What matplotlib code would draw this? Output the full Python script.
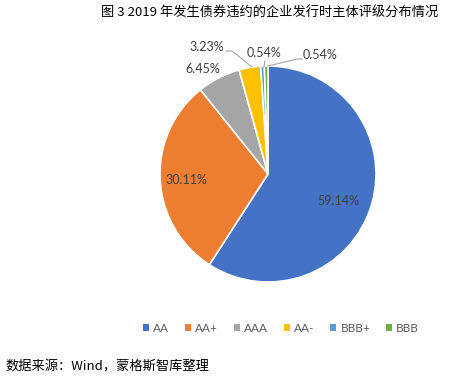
import matplotlib
matplotlib.use("Agg")
import matplotlib.pyplot as plt
from matplotlib.patches import Patch

plt.rcParams['font.family'] = ['Noto Sans CJK SC', 'DejaVu Sans']

grades = ['AA', 'AA+', 'AAA', 'AA-', 'BBB+', 'BBB']
shares = [59.14, 30.11, 6.45, 3.23, 0.54, 0.54]
colors = ['#4472C4', '#ED7D31', '#A5A5A5', '#FFC000', '#5B9BD5', '#70AD47']

title = '图 3 2019 年发生债券违约的企业发行时主体评级分布情况'
source = '数据来源：Wind，蒙格斯智库整理'

W, H = 463, 383
fig = plt.figure(figsize=(W / 100, H / 100), dpi=100)

# pie centre and radius in pixels
cx, cy, r = 268, 174, 108
ax = fig.add_axes([(cx - r) / W, (H - cy - r) / H, 2 * r / W, 2 * r / H])
wedges, _ = ax.pie(shares, colors=colors, startangle=90, counterclock=False,
                   wedgeprops=dict(edgecolor='white', linewidth=1.2))
ax.set_xlim(-1, 1)
ax.set_ylim(-1, 1)
ax.set_aspect('equal')


def px(x, y):
    return ((x - cx) / r, (cy - y) / r)


lab = dict(fontsize=9, color='#404040', family=['Lato', 'DejaVu Sans'],
           ha='center', va='center')
# label text positions (pixels)
label_pos = [(338, 201), (186, 180), (203, 69), (207, 47), (264, 53), (320, 55)]
for s, (x, y) in zip(shares, label_pos):
    ax.text(*px(x, y), f'{s:.2f}%', **lab, clip_on=False)

# leader lines
leaders = [
    [(226, 51), (232, 51), (252, 67)],
    [(265, 61), (264, 67)],
    [(302, 59), (297, 59), (268, 66)],
]
for pts in leaders:
    xs, ys = zip(*[px(x, y) for x, y in pts])
    ax.plot(xs, ys, color='#A6A6A6', linewidth=0.8, clip_on=False)

handles = [Patch(facecolor=c, edgecolor='none') for c in colors]
leg = fig.legend(handles, grades, loc='center', bbox_to_anchor=(281 / W, 1 - 328 / H),
                 ncol=6, frameon=False, handlelength=0.55, handleheight=0.55,
                 handletextpad=0.35, columnspacing=1.3,
                 prop={'family': ['Lato', 'DejaVu Sans'], 'size': 8.5})
for t in leg.get_texts():
    t.set_color('#595959')

fig.text(270 / W, 1 - 13 / H, title, ha='center', va='center', fontsize=9.5, color='black')
fig.text(5 / W, 1 - 367 / H, source, ha='left', va='center', fontsize=9.5, color='black')

fig.savefig('out.png', dpi=100, facecolor='white')
